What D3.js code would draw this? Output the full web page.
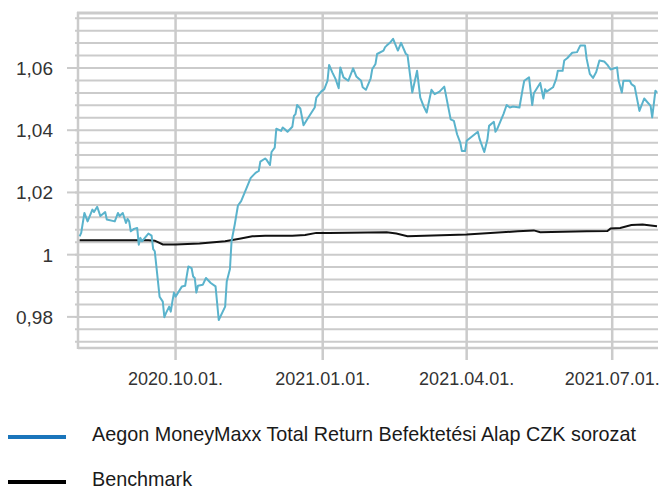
<!DOCTYPE html>
<html>
<head>
<meta charset="utf-8">
<script src="https://cdn.jsdelivr.net/npm/d3@7"></script>
<style>
  body { margin: 0; background: #fff; }
  text { font-family: "Liberation Sans", Arial, sans-serif; }
</style>
</head>
<body>
<div class="canvas"></div>
<script>
const
    width = 659,
    height = 491,
    plotLeft = 78,
    plotRight = 657,
    plotTop = 12,
    plotBottom = 348;

// fund series (Aegon MoneyMaxx Total Return CZK)
const fundDates = [
    "2020-08-02","2020-08-03","2020-08-05","2020-08-07","2020-08-10","2020-08-11","2020-08-13","2020-08-15",
    "2020-08-18","2020-08-19","2020-08-24","2020-08-26","2020-08-27","2020-08-29","2020-08-31","2020-09-01",
    "2020-09-02","2020-09-03","2020-09-05","2020-09-07","2020-09-08","2020-09-09","2020-09-10","2020-09-14",
    "2020-09-16","2020-09-17","2020-09-18","2020-09-21","2020-09-23","2020-09-24","2020-09-25","2020-09-27",
    "2020-09-28","2020-09-29","2020-09-30","2020-10-01","2020-10-05","2020-10-07","2020-10-08","2020-10-09",
    "2020-10-11","2020-10-12","2020-10-13","2020-10-14","2020-10-15","2020-10-18","2020-10-20","2020-10-23",
    "2020-10-26","2020-10-28","2020-11-01","2020-11-02","2020-11-04","2020-11-05","2020-11-07","2020-11-09",
    "2020-11-11","2020-11-17","2020-11-20","2020-11-22","2020-11-23","2020-11-26","2020-11-27","2020-11-29",
    "2020-11-30","2020-12-02","2020-12-03","2020-12-06","2020-12-07","2020-12-08","2020-12-10","2020-12-13",
    "2020-12-14","2020-12-15","2020-12-16","2020-12-18","2020-12-20","2020-12-23","2020-12-27","2020-12-28",
    "2020-12-31","2021-01-02","2021-01-04","2021-01-05","2021-01-07","2021-01-09","2021-01-11","2021-01-12",
    "2021-01-14","2021-01-17","2021-01-20","2021-01-22","2021-01-25","2021-01-26","2021-01-28","2021-01-31",
    "2021-02-01","2021-02-03","2021-02-04","2021-02-08","2021-02-09","2021-02-10","2021-02-12","2021-02-14",
    "2021-02-17","2021-02-19","2021-02-22","2021-02-23","2021-02-26","2021-03-01","2021-03-03","2021-03-05",
    "2021-03-07","2021-03-10","2021-03-12","2021-03-15","2021-03-18","2021-03-22","2021-03-24","2021-03-26",
    "2021-03-28","2021-03-29","2021-03-31","2021-04-01","2021-04-08","2021-04-09","2021-04-12","2021-04-14",
    "2021-04-15","2021-04-18","2021-04-19","2021-04-20","2021-04-24","2021-04-26","2021-04-28","2021-04-30",
    "2021-05-04","2021-05-06","2021-05-07","2021-05-10","2021-05-12","2021-05-13","2021-05-17","2021-05-19",
    "2021-05-20","2021-05-21","2021-05-25","2021-05-27","2021-05-28","2021-05-31","2021-06-01","2021-06-03",
    "2021-06-06","2021-06-09","2021-06-11","2021-06-14","2021-06-15","2021-06-17","2021-06-19","2021-06-21",
    "2021-06-23","2021-06-26","2021-06-28","2021-06-30","2021-07-04","2021-07-05","2021-07-07","2021-07-08",
    "2021-07-12","2021-07-13","2021-07-15","2021-07-18","2021-07-21","2021-07-25","2021-07-26","2021-07-28",
    "2021-07-29"
];
const fundValues = [
    1.0059,1.0070,1.0134,1.0107,1.0145,1.0137,1.0154,1.0124,
    1.0137,1.0113,1.0107,1.0134,1.0124,1.0134,1.0102,1.0115,
    1.0107,1.0075,1.0083,1.0086,1.0032,1.0054,1.0043,1.0068,
    1.0061,1.0018,1.0011,0.9865,0.9849,0.9799,0.9812,0.9833,
    0.9817,0.9849,0.9878,0.9865,0.9898,0.9900,0.9932,0.9962,
    0.9957,0.9930,0.9925,0.9878,0.9900,0.9903,0.9925,0.9909,
    0.9898,0.9790,0.9833,0.9914,0.9954,1.0043,1.0097,1.0158,
    1.0172,1.0247,1.0263,1.0269,1.0299,1.0309,1.0304,1.0288,
    1.0330,1.0344,1.0405,1.0398,1.0409,1.0405,1.0395,1.0411,
    1.0446,1.0452,1.0481,1.0470,1.0416,1.0441,1.0473,1.0505,
    1.0524,1.0532,1.0559,1.0610,1.0586,1.0565,1.0535,1.0602,
    1.0570,1.0559,1.0599,1.0573,1.0559,1.0538,1.0530,1.0567,
    1.0597,1.0613,1.0645,1.0656,1.0667,1.0672,1.0681,1.0694,
    1.0656,1.0681,1.0645,1.0642,1.0521,1.0591,1.0505,1.0478,
    1.0457,1.0530,1.0516,1.0524,1.0540,1.0435,1.0430,1.0387,
    1.0360,1.0333,1.0333,1.0366,1.0395,1.0373,1.0330,1.0371,
    1.0414,1.0427,1.0395,1.0403,1.0452,1.0481,1.0473,1.0476,
    1.0473,1.0532,1.0559,1.0570,1.0481,1.0519,1.0552,1.0502,
    1.0532,1.0524,1.0538,1.0565,1.0591,1.0591,1.0624,1.0632,
    1.0649,1.0651,1.0672,1.0672,1.0630,1.0581,1.0568,1.0587,
    1.0624,1.0621,1.0610,1.0595,1.0602,1.0559,1.0521,1.0559,
    1.0559,1.0548,1.0541,1.0462,1.0502,1.0478,1.0441,1.0527,
    1.0521
];

// benchmark series
const benchDates = [
    "2020-08-02","2020-09-14","2020-09-18","2020-09-23","2020-10-01","2020-10-16","2020-11-01","2020-11-10",
    "2020-11-18","2020-11-26","2020-12-13","2020-12-21","2020-12-28","2021-01-05","2021-02-10","2021-02-16",
    "2021-02-23","2021-04-01","2021-05-03","2021-05-13","2021-05-17","2021-06-15","2021-06-28","2021-06-30",
    "2021-07-06","2021-07-13","2021-07-20","2021-07-29"
];
const benchValues = [
    1.0046,1.0046,1.0045,1.0033,1.0033,1.0036,1.0043,1.0051,
    1.0059,1.0061,1.0061,1.0063,1.0070,1.0070,1.0072,1.0068,
    1.0059,1.0065,1.0075,1.0078,1.0072,1.0075,1.0076,1.0084,
    1.0086,1.0095,1.0097,1.0091
];

const xTicks = ["2020-10-01", "2021-01-01", "2021-04-01", "2021-07-01"];
const yTicks = [0.98, 1, 1.02, 1.04, 1.06];
const seriesNames = ["Aegon MoneyMaxx Total Return Befektetési Alap CZK sorozat", "Benchmark"];

const parse = d3.timeParse("%Y-%m-%d");
const huFmt = d3.formatLocale({ decimal: ",", thousands: " ", grouping: [3], currency: ["", ""] }).format(".2~f");
const dateFmt = d3.timeFormat("%Y.%m.%d.");

const svg = d3.select('.canvas').append("svg")
    .attr('width', width)
    .attr('height', height);

const x = d3.scaleTime()
    .domain([parse("2020-08-01"), parse("2021-07-29")])
    .range([plotLeft, plotRight]);
const y = d3.scaleLinear()
    .domain([0.97, 1.078])
    .range([plotBottom, plotTop]);

const grey = "#cbcbcb";

// minor horizontal grid, every 0.004
const minor = d3.range(0, 27).map(k => +(0.972 + k * 0.004).toFixed(3));
svg.append("g").selectAll("line")
    .data(minor)
    .enter().append("line")
    .attr("x1", plotLeft - 3).attr("x2", plotRight + 1)
    .attr("y1", d => y(d)).attr("y2", d => y(d))
    .attr("stroke", grey).attr("stroke-width", 2);

// major ticks on the left
svg.append("g").selectAll("line")
    .data(yTicks)
    .enter().append("line")
    .attr("x1", plotLeft - 11).attr("x2", plotLeft)
    .attr("y1", d => y(d)).attr("y2", d => y(d))
    .attr("stroke", grey).attr("stroke-width", 2);

// vertical grid + bottom ticks
svg.append("g").selectAll("line")
    .data(xTicks)
    .enter().append("line")
    .attr("x1", d => x(parse(d))).attr("x2", d => x(parse(d)))
    .attr("y1", plotTop).attr("y2", plotBottom + 12)
    .attr("stroke", grey).attr("stroke-width", 2.5);

// frame: top, left, bottom
svg.append("line")
    .attr("x1", plotLeft - 1).attr("x2", plotRight + 1)
    .attr("y1", y(1.078) + 1).attr("y2", y(1.078) + 1)
    .attr("stroke", grey).attr("stroke-width", 3);
svg.append("line")
    .attr("x1", plotLeft).attr("x2", plotLeft)
    .attr("y1", plotTop).attr("y2", plotBottom + 1)
    .attr("stroke", grey).attr("stroke-width", 2.5);
svg.append("line")
    .attr("x1", plotLeft).attr("x2", plotRight + 1)
    .attr("y1", plotBottom).attr("y2", plotBottom)
    .attr("stroke", grey).attr("stroke-width", 2.5);

// tick labels
svg.append("g").selectAll("text")
    .data(yTicks)
    .enter().append("text")
    .attr("x", 53)
    .attr("y", d => y(d))
    .attr("dy", "0.36em")
    .attr("text-anchor", "end")
    .attr("font-size", 19)
    .attr("fill", "#333")
    .text(d => huFmt(d));

svg.append("g").selectAll("text")
    .data(xTicks)
    .enter().append("text")
    .attr("x", d => x(parse(d)))
    .attr("y", 385)
    .attr("text-anchor", "middle")
    .attr("font-size", 18)
    .attr("fill", "#333")
    .text(d => dateFmt(parse(d)));

// series
const line = d3.line()
    .x(d => x(d[0]))
    .y(d => y(d[1]));

const bench = benchDates.map((d, i) => [parse(d), benchValues[i]]);
const fund = fundDates.map((d, i) => [parse(d), fundValues[i]]);

svg.append("path")
    .datum(bench)
    .attr("d", line)
    .attr("fill", "none")
    .attr("stroke", "#111")
    .attr("stroke-width", 2);

svg.append("path")
    .datum(fund)
    .attr("d", line)
    .attr("fill", "none")
    .attr("stroke", "#5ab3cc")
    .attr("stroke-width", 2)
    .attr("stroke-linejoin", "round");

// legend
const legendColors = ["#1a75bb", "#000"];
const legendY = [437, 482];
const legendBase = [441, 486];
const legend = svg.append("g").selectAll("g")
    .data(seriesNames)
    .enter().append("g");
legend.append("line")
    .attr("x1", 8).attr("x2", 66)
    .attr("y1", (d, i) => legendY[i]).attr("y2", (d, i) => legendY[i])
    .attr("stroke", (d, i) => legendColors[i])
    .attr("stroke-width", 4);
legend.append("text")
    .attr("x", 92)
    .attr("y", (d, i) => legendBase[i])
    .attr("font-size", 19.8)
    .attr("fill", "#1a1a1a")
    .text(d => d);
</script>
</body>
</html>
